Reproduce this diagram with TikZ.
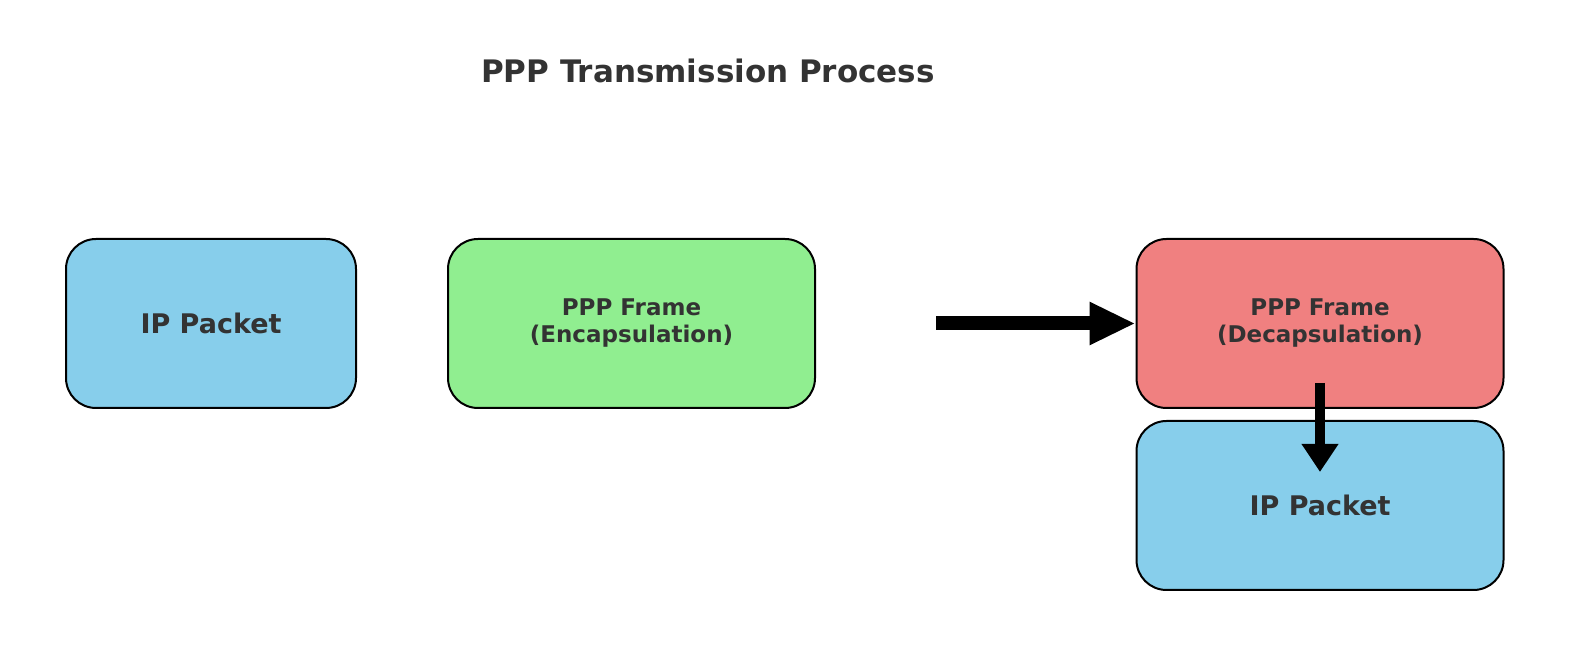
\documentclass[tikz,border=0pt]{standalone}
\usepackage{fontspec}
\setmainfont{DejaVu Sans}
\usetikzlibrary{arrows.meta}
\definecolor{txt}{HTML}{333333}
\definecolor{bl}{HTML}{87CEEB}
\definecolor{gr}{HTML}{90EE90}
\definecolor{rd}{HTML}{F08080}
\begin{document}
\begin{tikzpicture}[x=0.5pt,y=-0.5pt,
  box/.style={draw=black,line width=1pt,rounded corners=15pt,inner sep=0pt,align=center,text=txt,font=\bfseries},
  big/.style={font=\fontsize{13.5}{16}\bfseries\selectfont},
  small/.style={font=\fontsize{11.5}{13.5}\bfseries\selectfont},
  arr/.style={line width=7pt,-{Triangle[length=23pt,width=20pt]}}]
\useasboundingbox (0,0) rectangle (1589,656);
\node[text=txt,font=\fontsize{15.5}{18}\bfseries\selectfont] (title) at (708,71) {PPP Transmission Process};
\node[box,fill=bl,big,minimum width=145pt,minimum height=84.5pt] (ip1) at (211,323.5) {IP Packet};
\node[box,fill=gr,small,minimum width=183.5pt,minimum height=84.5pt] (enc) at (631.5,323.5) {PPP Frame\\(Encapsulation)};
\node[box,fill=rd,small,minimum width=183.5pt,minimum height=84.5pt] (dec) at (1320,323.5) {PPP Frame\\(Decapsulation)};
\node[box,fill=bl,big,minimum width=183.5pt,minimum height=84.5pt] (ip2) at (1320,505.5) {IP Packet};
\coordinate (s) at (936,323.5);
\draw[arr] (s) -- (dec.west);
\coordinate (v1) at (1320,383);
\coordinate (v2) at (1320,472);
\draw[line width=5pt,-{Triangle[length=14pt,width=17.5pt]}] (v1) -- (v2);
\end{tikzpicture}
\end{document}
